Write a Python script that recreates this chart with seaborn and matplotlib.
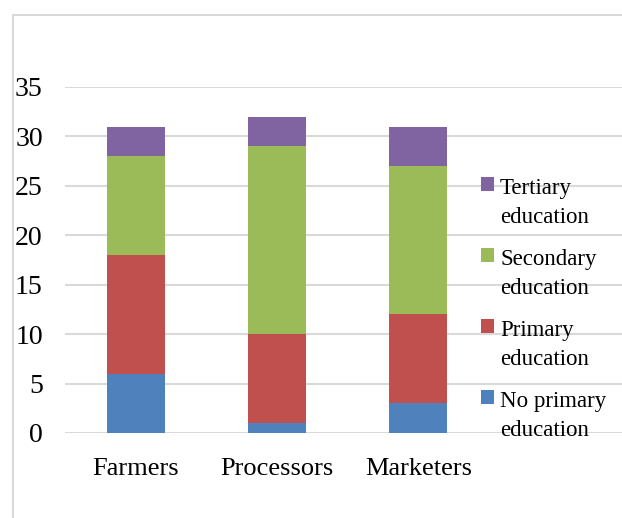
import matplotlib
matplotlib.use("Agg")
import matplotlib.pyplot as plt
from matplotlib.lines import Line2D
from matplotlib.patches import Rectangle
import numpy as np
import pandas as pd
import seaborn as sns

# Education level of value-chain actors (counts)
groups = ["Farmers", "Processors", "Marketers"]
no_primary = [6, 1, 3]
primary = [12, 9, 9]
secondary = [10, 19, 15]
tertiary = [3, 3, 4]

levels = [("No primary", "education"), ("Primary", "education"),
          ("Secondary", "education"), ("Tertiary", "education")]
colors = ["#4F81BD", "#C0504D", "#9BBB59", "#8064A2"]

sns.set_theme(style="white")
plt.rcParams["font.family"] = ["Liberation Serif", "DejaVu Serif"]

fig = plt.figure(figsize=(6.22, 5.18), dpi=100)
W, H = 622, 518
ax = fig.add_axes([65 / W, (H - 433) / H, (W - 65) / W, (433 - 87) / H])

# cumulative stack heights, drawn tallest first so each layer shows
layers = np.array([no_primary, primary, secondary, tertiary], dtype=float)
cum = np.cumsum(layers, axis=0)
for i in range(3, -1, -1):
    df = pd.DataFrame({"group": groups, "value": cum[i]})
    sns.barplot(data=df, x="group", y="value", color=colors[i],
                saturation=1, width=0.41, linewidth=0, ax=ax, zorder=3)

ax.set_ylim(0, 35)
ax.set_yticks(range(0, 36, 5))
ax.set_xlim(-0.5, 3.44)
ax.set_xlabel("")
ax.set_ylabel("")
ax.yaxis.grid(True, color="#D9D9D9", linewidth=1.5, zorder=0)
ax.set_axisbelow(True)
for s in ax.spines.values():
    s.set_visible(False)
ax.tick_params(axis="both", length=0, colors="#000000")
ax.tick_params(axis="y", pad=16, labelsize=20)
ax.tick_params(axis="x", pad=18, labelsize=19)

# legend, top entry first
for k, i in enumerate(range(3, -1, -1)):
    sq_top = 177 + 71 * k
    base1 = 194 + 71 * k
    fig.patches.append(Rectangle((481 / W, 1 - (sq_top + 14) / H), 13 / W, 14 / H,
                                 transform=fig.transFigure, facecolor=colors[i],
                                 edgecolor="none", figure=fig))
    for j, line in enumerate(levels[i]):
        fig.text(500 / W, 1 - (base1 + 29 * j) / H, line, ha="left",
                 va="baseline", fontsize=16.5, color="#000000")

# chart frame
frame = dict(color="#D9D9D9", linewidth=1.5, transform=fig.transFigure)
fig.add_artist(Line2D([13 / W, 1], [1 - 15 / H, 1 - 15 / H], **frame))
fig.add_artist(Line2D([13 / W, 13 / W], [0, 1 - 15 / H], **frame))

fig.savefig("out.png", dpi=100, facecolor="white")
